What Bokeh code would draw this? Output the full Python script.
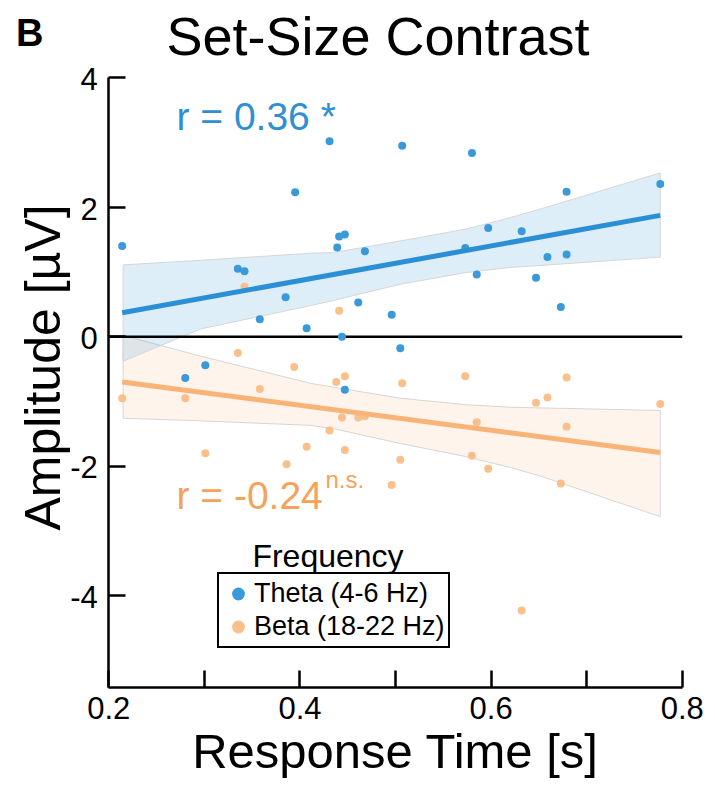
import math
from bokeh.plotting import figure
from bokeh.models import Label, Legend, LegendItem, FixedTicker, Range1d
from bokeh.embed import file_html
from bokeh.resources import INLINE
from bokeh.core.properties import value

# ---------------- data ----------------
theta_rt = [0.214, 0.280, 0.301, 0.335, 0.342, 0.358, 0.385, 0.395, 0.407, 0.431,
            0.439, 0.441, 0.444, 0.447, 0.447, 0.461, 0.468, 0.496, 0.505, 0.507,
            0.573, 0.580, 0.585, 0.597, 0.632, 0.647, 0.659, 0.673, 0.679, 0.679, 0.777]
theta_amp = [1.40, -0.64, -0.44, 1.05, 1.01, 0.27, 0.61, 2.23, 0.13, 3.02,
             1.38, 1.55, 0.00, 1.58, -0.82, 0.53, 1.32, 0.34, -0.18, 2.95,
             1.37, 2.84, 0.96, 1.68, 1.63, 0.91, 1.23, 0.46, 2.24, 1.27, 2.36]

beta_rt = [0.214, 0.280, 0.301, 0.335, 0.342, 0.358, 0.386, 0.394, 0.407, 0.431,
           0.438, 0.441, 0.444, 0.447, 0.447, 0.461, 0.468, 0.496, 0.505, 0.507,
           0.573, 0.580, 0.585, 0.597, 0.632, 0.647, 0.659, 0.673, 0.679, 0.679, 0.777]
beta_amp = [-0.95, -0.95, -1.80, -0.25, 0.77, -0.81, -1.97, -0.47, -1.70, -1.45,
            -0.70, 0.40, -1.25, -0.61, -1.75, -1.25, -1.23, -2.29, -1.90, -0.72,
            -0.61, -1.84, -1.32, -2.04, -4.23, -1.02, -0.94, -2.27, -0.63, -1.39, -1.04]

fit_rt = [0.214, 0.777]
theta_fit = [0.37, 1.875]
beta_fit = [-0.70, -1.79]

band_rt = [0.215, 0.296, 0.411, 0.435, 0.505, 0.573, 0.620, 0.651, 0.777]
theta_upper = [1.11, 1.18, 1.29, 1.30, 1.48, 1.66, 1.84, 1.97, 2.53]
theta_lower = [-0.38, 0.12, 0.48, 0.56, 0.81, 0.99, 1.07, 1.10, 1.23]
beta_upper = [0.02, -0.30, -0.72, -0.78, -0.95, -1.05, -1.09, -1.10, -1.14]
beta_lower = [-1.26, -1.30, -1.37, -1.42, -1.65, -1.85, -2.02, -2.15, -2.78]

x_ticks = [0.2, 0.4, 0.6, 0.8]
x_tick_labels = ["0.2", "0.4", "0.6", "0.8"]
x_minor_ticks = [0.3, 0.5, 0.7]
y_ticks = [-4, -2, 0, 2, 4]
y_tick_labels = ["-4", "-2", "0", "2", "4"]
y_axis_min = -5.42
series_labels = ["Theta (4-6 Hz)", "Beta (18-22 Hz)"]
legend_title = "Frequency"
theta_r_text = "r = 0.36 *"
beta_r_text = "r = -0.24"
beta_sig_text = "n.s."
title_text = "Set-Size Contrast"
panel_letter = "B"
x_label = "Response Time [s]"
y_label = "Amplitude [µV]"

# ---------------- styling ----------------
FONT = "Liberation Sans"
BLUE_PT = "#3a9ad9"
BLUE_LINE = "#2b8fd6"
BLUE_TXT = "#2f8fd5"
ORANGE_PT = "#fac08c"
ORANGE_LINE = "#f8b476"
ORANGE_TXT = "#f6a25b"

# The frame covers the whole canvas so that every text can sit inside it;
# the axes are pinned (fixed_location) at x = 0.2 and y = y_axis_min.
# 955.7 px per x unit, 64.72 px per y unit.
p = figure(frame_width=711, frame_height=781,
           x_range=Range1d(0.09087, 0.83482), y_range=Range1d(-6.8727, 5.1947),
           output_backend="svg", toolbar_location=None,
           min_border=0, min_border_left=4, min_border_right=0,
           min_border_top=0, min_border_bottom=4)
p.title.visible = False
p.xgrid.visible = False
p.ygrid.visible = False
p.outline_line_color = None
p.background_fill_color = "white"
p.border_fill_color = "white"

for ax in (p.xaxis[0], p.yaxis[0]):
    ax.axis_line_width = 2.5
    ax.axis_line_color = "black"
    ax.major_tick_in = 17
    ax.major_tick_out = 0
    ax.minor_tick_in = 17
    ax.minor_tick_out = 0
    ax.major_tick_line_width = 2.5
    ax.minor_tick_line_width = 2.5
    ax.major_tick_line_color = "black"
    ax.minor_tick_line_color = "black"

# ticks are drawn by the axes; their labels are placed as texts below
p.xaxis.ticker = FixedTicker(ticks=[], minor_ticks=sorted(x_ticks + x_minor_ticks))
p.xaxis.fixed_location = y_axis_min
p.xaxis.bounds = (x_ticks[0], x_ticks[-1])
p.yaxis.ticker = FixedTicker(ticks=[], minor_ticks=y_ticks)
p.yaxis.fixed_location = x_ticks[0]
p.yaxis.bounds = (y_axis_min, y_ticks[-1])

for t, lab in zip(y_ticks, y_tick_labels):
    p.add_layout(Label(x=x_ticks[0], y=t, x_offset=-11, y_offset=-1.3, text=lab,
                       text_font=FONT, text_font_size="31px", text_align="right",
                       text_baseline="alphabetic", text_color="black"))
for t, lab in zip(x_ticks, x_tick_labels):
    p.add_layout(Label(x=t, y=y_axis_min, y_offset=-20.9, text=lab,
                       text_font=FONT, text_font_size="31px", text_align="center",
                       text_baseline="alphabetic", text_color="black"))

# axis titles
p.add_layout(Label(x=(x_ticks[0] + x_ticks[-1]) / 2, y=y_axis_min, y_offset=-64, text=x_label,
                   text_font=FONT, text_font_size="49px", text_align="center",
                   text_baseline="alphabetic", text_color="black"))
p.add_layout(Label(x=38.2, y=414, x_units="screen", y_units="screen", angle=math.pi / 2,
                   text=y_label, text_font=FONT, text_font_size="50px",
                   text_align="center", text_baseline="alphabetic", text_color="black"))

# confidence bands
p.patch(band_rt + band_rt[::-1], beta_upper + beta_lower[::-1],
        fill_color=ORANGE_PT, fill_alpha=0.17, line_color="#d6d6d6", line_width=1)
p.patch(band_rt + band_rt[::-1], theta_upper + theta_lower[::-1],
        fill_color=BLUE_PT, fill_alpha=0.17, line_color="#d6d6d6", line_width=1)

# zero line
p.line([x_ticks[0], x_ticks[-1]], [0, 0], line_color="black", line_width=2.5)

# points
r_beta = p.scatter(beta_rt, beta_amp, size=8, fill_color=ORANGE_PT, line_color=None)
r_theta = p.scatter(theta_rt, theta_amp, size=8, fill_color=BLUE_PT, line_color=None)

# regression lines
p.line(fit_rt, theta_fit, line_color=BLUE_LINE, line_width=5)
p.line(fit_rt, beta_fit, line_color=ORANGE_LINE, line_width=5)

# correlation annotations
p.add_layout(Label(x=0.2708, y=3.395, text=theta_r_text, text_font=FONT,
                   text_font_size="39px", text_color=BLUE_TXT, text_baseline="alphabetic"))
p.add_layout(Label(x=0.2708, y=-2.45, text=beta_r_text, text_font=FONT,
                   text_font_size="39px", text_color=ORANGE_TXT, text_baseline="alphabetic"))
p.add_layout(Label(x=0.4267, y=-2.205, text=beta_sig_text, text_font=FONT,
                   text_font_size="24px", text_color=ORANGE_TXT, text_baseline="alphabetic"))

# title and panel letter
p.add_layout(Label(x=373.5, y=746, x_units="screen", y_units="screen",
                   text=title_text, text_font=FONT, text_font_size="54px",
                   text_align="center", text_baseline="alphabetic", text_color="black"))
p.add_layout(Label(x=11.5, y=749, x_units="screen", y_units="screen",
                   text=panel_letter, text_font=FONT, text_font_size="38px", text_font_style="bold",
                   text_baseline="alphabetic", text_color="black"))

# legend
p.add_layout(Label(x=323.5, y=225.5, x_units="screen", y_units="screen",
                   text=legend_title, text_font=FONT, text_font_size="32px",
                   text_align="center", text_baseline="alphabetic", text_color="black"))
legend = Legend(items=[LegendItem(label=value(series_labels[0]), renderers=[r_theta]),
                       LegendItem(label=value(series_labels[1]), renderers=[r_beta])],
                location=(213, 132.7), orientation="vertical", margin=0,
                border_line_color="black", border_line_width=2, border_line_alpha=1,
                background_fill_color="white", background_fill_alpha=1,
                glyph_width=32, glyph_height=33, label_height=33, label_standoff=0,
                padding=3, spacing=0,
                label_text_font=FONT, label_text_font_size="27px", label_text_color="black")
p.add_layout(legend)

open("out.html", "w").write(file_html(p, INLINE))
